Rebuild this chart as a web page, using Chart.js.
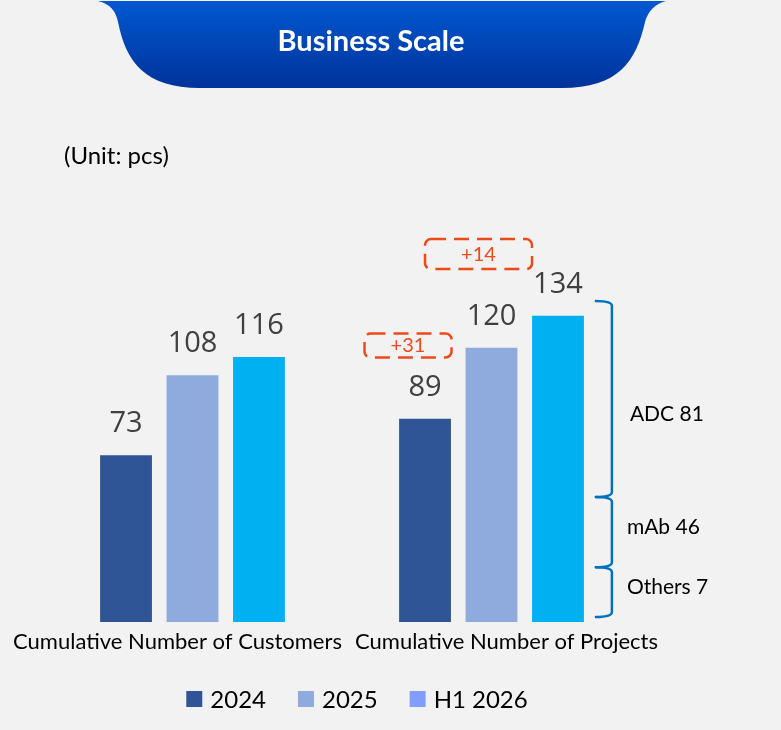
<!DOCTYPE html>
<html>
<head>
<meta charset="utf-8">
<script src="https://cdn.jsdelivr.net/npm/chart.js@4"></script>
<style>
  html, body { margin: 0; padding: 0; background: #F2F2F2; }
  #wrap { width: 781px; height: 730px; }
</style>
</head>
<body>
<div id="wrap"><canvas id="scaleChart" width="781" height="730"></canvas></div>
<script>
// Business Scale chart

const categories = [
    'Cumulative Number of Customers',
    'Cumulative Number of Projects',
];

const seriesNames = ['2024', '2025', 'H1 2026'];
const values2024 = [73, 89];
const values2025 = [108, 120];
const valuesH1_2026 = [116, 134];

// project split for H1 2026
const segmentNames = ['Others', 'mAb', 'ADC'];
const segmentValues = [7, 46, 81];

const barColors = ['#2F5597', '#8FAADC', '#00B0F0'];
const legendColors = ['#2F5597', '#8FAADC', '#809EFF'];

// growth of projects year on year
const growthLabels = [
    '+' + (values2025[1] - values2024[1]),
    '+' + (valuesH1_2026[1] - values2025[1]),
];

const labelFont = '"Lato", "Open Sans", sans-serif';

const backgroundPlugin = {
    id: 'background',
    beforeDraw(chart) {
        const ctx = chart.ctx;
        ctx.save();
        ctx.fillStyle = '#F2F2F2';
        ctx.fillRect(0, 0, chart.width, chart.height);

        // header tab
        const grad = ctx.createLinearGradient(0, 0, 0, 88);
        grad.addColorStop(0, '#0058D2');
        grad.addColorStop(1, '#00339A');
        ctx.fillStyle = grad;
        ctx.beginPath();
        ctx.moveTo(98, 1);
        ctx.bezierCurveTo(110, 4, 116, 11, 118, 22);
        ctx.bezierCurveTo(126, 62, 145, 88, 200, 88);
        ctx.lineTo(562, 88);
        ctx.bezierCurveTo(618, 88, 636, 62, 645, 22);
        ctx.bezierCurveTo(648, 11, 655, 4, 666, 1);
        ctx.closePath();
        ctx.fill();

        ctx.fillStyle = '#FFFFFF';
        ctx.font = 'bold 29px ' + labelFont;
        ctx.textAlign = 'center';
        ctx.textBaseline = 'middle';
        ctx.fillText('Business Scale', 371, 42);

        ctx.fillStyle = '#000000';
        ctx.font = '24px ' + labelFont;
        ctx.textAlign = 'left';
        ctx.fillText('(Unit: pcs)', 64, 156);
        ctx.restore();
    }
};

const valueLabelPlugin = {
    id: 'valueLabels',
    afterDatasetsDraw(chart) {
        const ctx = chart.ctx;
        ctx.save();
        ctx.fillStyle = '#404040';
        ctx.font = '29px "Open Sans", sans-serif';
        ctx.textAlign = 'center';
        ctx.textBaseline = 'alphabetic';
        chart.data.datasets.forEach((ds, d) => {
            chart.getDatasetMeta(d).data.forEach((bar, i) => {
                ctx.fillText(ds.data[i], bar.x, bar.y - 23);
            });
        });
        ctx.restore();
    }
};

const categoryLabelPlugin = {
    id: 'categoryLabels',
    afterDraw(chart, args, opts) {
        const ctx = chart.ctx;
        const xScale = chart.scales.x;
        ctx.save();
        ctx.fillStyle = '#000000';
        ctx.font = '22px ' + labelFont;
        ctx.textAlign = 'center';
        ctx.textBaseline = 'alphabetic';
        categories.forEach((c, i) => {
            ctx.fillText(c, xScale.getPixelForValue(i) + opts.shift[i], chart.chartArea.bottom + 27);
        });
        ctx.restore();
    }
};

const bracketPlugin = {
    id: 'brackets',
    afterDraw(chart, args, opts) {
        const ctx = chart.ctx;
        const y = chart.scales.y;
        const bar = chart.getDatasetMeta(2).data[1];
        const right = bar.x + bar.width / 2;
        const x0 = right + 12, x1 = right + 28;
        ctx.save();
        ctx.strokeStyle = '#0070C0';
        ctx.lineWidth = 2.5;
        ctx.lineCap = 'round';
        for (let s = 0; s < segmentValues.length; s++) {
            const bottom = y.getPixelForValue(opts.stops[s]);
            const top = y.getPixelForValue(opts.stops[s + 1]);
            ctx.beginPath();
            ctx.moveTo(x0, top);
            ctx.quadraticCurveTo(x1, top, x1, top + 5);
            ctx.lineTo(x1, bottom - 5);
            ctx.quadraticCurveTo(x1, bottom, x0, bottom);
            ctx.stroke();
        }
        ctx.fillStyle = '#000000';
        ctx.font = '21px ' + labelFont;
        ctx.textAlign = 'left';
        ctx.textBaseline = 'middle';
        segmentNames.forEach((n, s) => {
            ctx.fillText(n + ' ' + segmentValues[s], right + opts.labelDx[s], y.getPixelForValue(opts.labelAt[s]));
        });
        ctx.restore();
    }
};

const growthPlugin = {
    id: 'growth',
    afterDraw(chart, args, opts) {
        const ctx = chart.ctx;
        const y = chart.scales.y;
        ctx.save();
        opts.boxes.forEach((b, k) => {
            const bar = chart.getDatasetMeta(b.dataset).data[1];
            const cx = bar.x + b.dx;
            const cy = y.getPixelForValue(b.at);
            ctx.strokeStyle = '#EE4A18';
            ctx.lineWidth = 2.5;
            ctx.setLineDash([15, 8]);
            ctx.beginPath();
            ctx.roundRect(cx - b.w / 2, cy - b.h / 2, b.w, b.h, 6);
            ctx.stroke();
            ctx.setLineDash([]);
            ctx.fillStyle = '#EE4A18';
            ctx.font = '20px ' + labelFont;
            ctx.textAlign = 'center';
            ctx.textBaseline = 'middle';
            ctx.fillText(growthLabels[k], cx, cy);
        });
        ctx.restore();
    }
};

const legendPlugin = {
    id: 'customLegend',
    afterDraw(chart, args, opts) {
        const ctx = chart.ctx;
        ctx.save();
        ctx.font = '24px ' + labelFont;
        const box = 16, gap = 8, spacing = 32;
        const widths = seriesNames.map(n => ctx.measureText(n).width);
        const total = widths.reduce((a, w) => a + box + gap + w, 0) + spacing * (seriesNames.length - 1);
        let x = opts.centerX - total / 2;
        ctx.textBaseline = 'middle';
        ctx.textAlign = 'left';
        seriesNames.forEach((n, i) => {
            ctx.fillStyle = legendColors[i];
            ctx.fillRect(x, opts.y - box / 2, box, box);
            ctx.fillStyle = '#000000';
            ctx.fillText(n, x + box + gap, opts.y + 1);
            x += box + gap + widths[i] + spacing;
        });
        ctx.restore();
    }
};

const scaleData = {
    labels: categories,
    datasets: [
        { label: seriesNames[0], data: values2024, backgroundColor: barColors[0] },
        { label: seriesNames[1], data: values2025, backgroundColor: barColors[1] },
        { label: seriesNames[2], data: valuesH1_2026, backgroundColor: barColors[2] },
    ]
};

const scaleConfig = {
    type: 'bar',
    data: scaleData,
    options: {
        responsive: false,
        animation: false,
        devicePixelRatio: 1,
        layout: { padding: { left: 43, right: 140, top: 165, bottom: 108 } },
        datasets: { bar: { categoryPercentage: 0.667, barPercentage: 0.78 } },
        scales: {
            x: { display: false },
            y: { display: false, min: 0, max: 200 }
        },
        plugins: {
            legend: { display: false },
            tooltip: { enabled: false },
            categoryLabels: { shift: [-15, 15] },
            brackets: {
                stops: [2.2, 24, 54.7, 140.5],
                labelAt: [15, 41.5, 91],
                labelDx: [43, 43, 46]
            },
            growth: {
                boxes: [
                    { dataset: 0, dx: -17, at: 121, w: 87, h: 24 },
                    { dataset: 1, dx: -13, at: 161, w: 107, h: 30 }
                ]
            },
            customLegend: { centerX: 357, y: 699 }
        }
    },
    plugins: [backgroundPlugin, valueLabelPlugin, categoryLabelPlugin, bracketPlugin, growthPlugin, legendPlugin]
};

const scaleChart = new Chart(document.getElementById('scaleChart'), scaleConfig);
</script>
</body>
</html>
